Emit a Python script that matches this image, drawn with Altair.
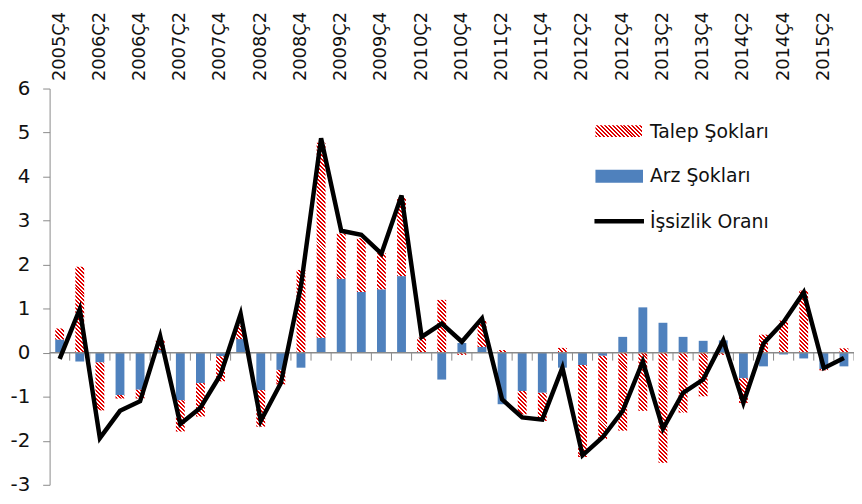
import math
import altair as alt

# ---------------- data ----------------
quarters = [
    "2005Ç4",
    "2006Ç1", "2006Ç2", "2006Ç3", "2006Ç4",
    "2007Ç1", "2007Ç2", "2007Ç3", "2007Ç4",
    "2008Ç1", "2008Ç2", "2008Ç3", "2008Ç4",
    "2009Ç1", "2009Ç2", "2009Ç3", "2009Ç4",
    "2010Ç1", "2010Ç2", "2010Ç3", "2010Ç4",
    "2011Ç1", "2011Ç2", "2011Ç3", "2011Ç4",
    "2012Ç1", "2012Ç2", "2012Ç3", "2012Ç4",
    "2013Ç1", "2013Ç2", "2013Ç3", "2013Ç4",
    "2014Ç1", "2014Ç2", "2014Ç3", "2014Ç4",
    "2015Ç1", "2015Ç2", "2015Ç3",
]
labelled_quarters = quarters[0::2]

arz = [0.30, -0.20, -0.22, -0.96, -0.84, 0.06, -1.08, -0.69, -0.08, 0.31,
       -0.85, -0.39, -0.34, 0.34, 1.68, 1.38, 1.44, 1.74, 0.00, -0.61,
       0.22, 0.13, -1.17, -0.87, -0.91, -0.34, -0.28, -0.07, 0.36, 1.03,
       0.68, 0.36, 0.27, 0.28, -0.58, -0.31, -0.04, -0.13, -0.37, -0.31]

talep = [0.25, 1.95, -1.09, -0.08, -0.20, 0.22, -0.71, -0.76, -0.57, 0.31,
         -0.83, -0.33, 1.88, 4.43, 1.03, 1.22, 0.82, 1.78, 0.34, 1.20,
         -0.05, 0.59, 0.06, -0.53, -0.64, 0.11, -2.09, -1.89, -1.77, -1.32,
         -2.50, -1.36, -0.99, -0.05, -0.56, 0.41, 0.73, 1.41, -0.03, 0.10]

issizlik = [-0.14, 0.99, -1.94, -1.32, -1.10, 0.37, -1.62, -1.25, -0.50, 0.88,
            -1.55, -0.69, 1.52, 4.87, 2.77, 2.68, 2.25, 3.57, 0.36, 0.66,
            0.25, 0.78, -1.06, -1.47, -1.52, -0.34, -2.33, -1.92, -1.32, -0.20,
            -1.73, -0.91, -0.61, 0.28, -1.14, 0.21, 0.70, 1.37, -0.35, -0.12]

series_names = ["Talep Şokları", "Arz Şokları", "İşsizlik Oranı"]

# ---------------- style ----------------
PLOT_W, PLOT_H = 812, 400
Y_MIN, Y_MAX = -3, 6
FONT = "DejaVu Sans"
TEXT = "#111111"
GRAY = "#8a8a8a"
BLUE = "#4F81BD"
RED = "#E00000"
PAD_INNER = 0.56
STEP = PLOT_W / len(quarters)
bar_w = STEP * (1 - PAD_INNER)
px_per_unit = PLOT_H / (Y_MAX - Y_MIN)
TICK_LEN = 8 / px_per_unit          # category tick length (data units)
TICK_SHIFT = STEP * PAD_INNER / 2   # from band end to category boundary (px)


def hatch(w, h, color=RED, period=4.0, duty=0.5):
    """Diagonal (downward) stripes as a linear gradient in bbox units."""
    w = max(w, 0.5)
    h = max(h, 0.5)
    L = w + h
    k = L / (w * w + h * h)
    stops = []
    n = int(math.ceil(L / period))
    for j in range(n):
        a = round(j * period / L, 4)
        b = round(min((j + duty) * period / L, 1.0), 4)
        c = round(min((j + 1) * period / L, 1.0), 4)
        stops += [
            {"offset": a, "color": color},
            {"offset": b, "color": color},
            {"offset": b, "color": "#ffffff"},
            {"offset": c, "color": "#ffffff"},
        ]
    return {"gradient": "linear", "x1": 0, "y1": 1,
            "x2": round(k * w, 5), "y2": round(1 - k * h, 5), "stops": stops}


bar_rows = []
for q, a, t in zip(quarters, arz, talep):
    bar_rows.append({"q": q, "seri": series_names[1], "order": 0, "value": a, "fill": BLUE})
    bar_rows.append({"q": q, "seri": series_names[0], "order": 1, "value": t,
                     "fill": hatch(bar_w, abs(t) * px_per_unit)})
line_rows = [{"q": q, "u": u} for q, u in zip(quarters, issizlik)]
tick_rows = [{"q": q} for q in quarters]

x_scale = alt.Scale(domain=quarters, paddingInner=PAD_INNER, paddingOuter=PAD_INNER / 2)
y_scale = alt.Scale(domain=[Y_MIN, Y_MAX], nice=False)

x_axis = alt.Axis(
    orient="top", values=labelled_quarters, labelAngle=270, labelAlign="left",
    labelBaseline="middle", labelPadding=8, ticks=False, tickSize=0, domain=False,
    labelFont=FONT, labelFontSize=18, labelColor=TEXT, labelOverlap=False,
    title=None, grid=False)
y_axis = alt.Axis(
    orient="left", values=list(range(Y_MIN, Y_MAX + 1)), domainColor=GRAY,
    domainWidth=1, ticks=True, tickColor=GRAY, tickSize=7, tickWidth=1,
    labelFont=FONT, labelFontSize=20, labelColor=TEXT, labelPadding=13,
    labelExpr="'' + datum.value",
    grid=False, title=None, labelOverlap=False, domain=True)

bars = alt.Chart(alt.Data(values=bar_rows)).transform_stack(
    stack="value", groupby=["q"], as_=["v0", "v1"],
    sort=[alt.SortField("order", order="ascending")]
).mark_bar(strokeWidth=0).encode(
    x=alt.X("q:N", scale=x_scale, axis=x_axis),
    y=alt.Y("v1:Q", scale=y_scale, axis=y_axis),
    y2="v0:Q",
    fill=alt.Fill("fill:N", scale=None),
)

zero_rule = alt.Chart(alt.Data(values=[{"z": 0}])).mark_rule(
    color=GRAY, strokeWidth=1.5
).encode(y=alt.Y("z:Q", scale=y_scale, axis=y_axis))

cat_ticks = alt.Chart(alt.Data(values=tick_rows)).mark_rule(
    color=GRAY, strokeWidth=1, xOffset=TICK_SHIFT
).encode(
    x=alt.X("q:N", scale=x_scale, axis=x_axis, bandPosition=1),
    y=alt.datum(0, scale=y_scale, axis=y_axis),
    y2=alt.datum(-TICK_LEN),
)

line = alt.Chart(alt.Data(values=line_rows)).mark_line(
    color="black", strokeWidth=4.5
).encode(
    x=alt.X("q:N", scale=x_scale, axis=x_axis),
    y=alt.Y("u:Q", scale=y_scale, axis=y_axis),
)

# ---------------- legend ----------------
one = alt.Data(values=[{"k": 0}])
sw_talep = alt.Chart(one).mark_rect(fill=hatch(47, 12)).encode(
    x=alt.value(551), x2=alt.value(598), y=alt.value(37), y2=alt.value(49))
sw_arz = alt.Chart(one).mark_rect(fill=BLUE).encode(
    x=alt.value(551), x2=alt.value(599), y=alt.value(82), y2=alt.value(95))
sw_line = alt.Chart(one).mark_rule(color="black", strokeWidth=4.5).encode(
    x=alt.value(550), x2=alt.value(600), y=alt.value(134))

legend_y = [49.5, 94.7, 140.5]
leg_texts = [
    alt.Chart(alt.Data(values=[{"t": name}])).mark_text(
        align="left", baseline="alphabetic", font=FONT, fontSize=19, color=TEXT
    ).encode(text="t:N", x=alt.value(606), y=alt.value(yy))
    for name, yy in zip(series_names, legend_y)
]

chart = alt.layer(
    bars, zero_rule, cat_ticks, line, sw_talep, sw_arz, sw_line, *leg_texts
).properties(
    width=PLOT_W, height=PLOT_H,
    padding={"left": 42, "top": 79, "right": 0, "bottom": 9},
    autosize=alt.AutoSizeParams(type="none"),
    background="white",
).configure_view(stroke=None)

chart.save("out.html", embed_options={"renderer": "svg", "actions": False})
